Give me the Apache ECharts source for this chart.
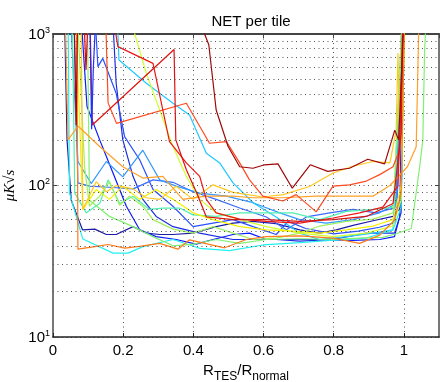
<!DOCTYPE html>
<html>
<head>
<meta charset="utf-8">
<script src="https://cdn.jsdelivr.net/npm/echarts@6/dist/echarts.min.js"></script>
<style>
  html, body { margin: 0; padding: 0; background: #fff; }
  #chart { width: 446px; height: 382px; }
</style>
</head>
<body>
<div id="chart"></div>
<script>
// NET curves, one per tile: [R_TES/R_normal, NET]
const tileDarkRed = [[0.418,1300],[0.432,1000],[0.444,850],[0.465,315],[0.499,181],[0.532,133],[0.57,130],[0.603,137],[0.641,139],[0.682,96],[0.733,137],[0.783,124],[0.845,130],[0.897,149],[0.945,139],[0.974,232],[0.985,200],[0.994,610],[0.999,1300]];
const tileRedA = [[0.105,1400],[0.112,251],[0.345,790],[0.35,200],[0.38,127],[0.41,89],[0.437,62],[0.513,59.5],[0.608,59.5],[0.703,58],[0.798,59.5],[0.893,62.5],[0.969,76],[0.992,220],[0.997,1400]];
const tileRedB = [[0.171,1300],[0.185,825],[0.285,640],[0.332,195],[0.38,141],[0.418,115],[0.437,81],[0.465,66],[0.532,60],[0.608,58],[0.703,56.5],[0.798,61],[0.874,66],[0.94,72],[0.983,99],[1.0,1300]];
const tileOrangeRed = [[0.15,1300],[0.157,351],[0.181,257],[0.38,349],[0.446,190],[0.494,195],[0.532,141],[0.56,109],[0.598,85],[0.655,79],[0.693,87],[0.75,67],[0.798,99],[0.845,101],[0.893,107],[0.931,118],[0.969,133],[0.988,172],[0.997,1300]];
const tileOrangeLow = [[0.068,1300],[0.071,38],[0.119,39.5],[0.157,40.8],[0.204,38.6],[0.247,39.6],[0.304,41.5],[0.356,38],[0.389,43.8],[0.489,38.8],[0.551,44],[0.608,46],[0.703,46.5],[0.798,45],[0.874,41.5],[0.931,47],[0.973,59],[0.992,89],[1.002,1300]];
const tileOrange = [[0.035,1300],[0.043,200],[0.071,247],[0.133,181],[0.199,133],[0.256,112],[0.313,115],[0.37,81],[0.437,85],[0.513,85],[0.57,83],[0.655,83],[0.75,85],[0.845,85],[0.912,85],[0.96,100],[1.01,133],[1.035,180],[1.043,1300]];
const tileAmber = [[0.08,1300],[0.085,69.5],[0.123,106],[0.152,91],[0.18,100],[0.228,95],[0.266,83],[0.304,81],[0.351,99],[0.399,81],[0.456,101],[0.513,90],[0.598,84],[0.656,87],[0.731,98.5],[0.798,121],[0.85,133],[0.911,144],[0.96,141],[0.978,230],[0.983,746],[0.988,200],[1.0,1300]];
const tileYellow = [[0.065,1300],[0.085,69.5],[0.123,94],[0.161,81],[0.199,99],[0.247,81],[0.294,94],[0.342,81],[0.399,66],[0.456,59.5],[0.532,53.5],[0.608,51],[0.684,50],[0.76,48.5],[0.836,51],[0.912,54],[0.969,59.5],[0.992,99],[1.002,1300]];
const tileLime = [[0.228,1300],[0.233,1000],[0.266,550],[0.304,315],[0.342,181],[0.38,115],[0.418,81],[0.465,66],[0.532,59.5],[0.608,53.5],[0.703,48.5],[0.798,46],[0.893,48.5],[0.969,54],[0.992,81],[1.002,1300]];
const tileLightGreen = [[0.07,1300],[0.09,133],[0.104,73],[0.133,85],[0.161,106],[0.19,74],[0.218,85],[0.256,73],[0.285,59.5],[0.342,51.5],[0.399,48.5],[0.456,53.5],[0.513,48.5],[0.57,44],[0.636,45],[0.703,48.5],[0.76,54],[0.836,58],[0.912,60],[0.969,66],[0.995,1300]];
const tileGreen = [[0.098,1300],[0.104,80],[0.161,62.5],[0.228,53.5],[0.285,46],[0.342,40],[0.399,41],[0.465,44],[0.532,41.5],[0.608,44],[0.703,44.5],[0.798,44],[0.874,45],[0.94,45.5],[0.978,48],[1.021,52],[1.045,133],[1.054,200],[1.059,785],[1.064,1300]];
const tileTeal = [[0.055,1300],[0.062,89],[0.095,66],[0.133,76],[0.157,109],[0.19,76],[0.228,85],[0.275,69.5],[0.313,71],[0.361,71],[0.399,64],[0.465,62.5],[0.532,66],[0.608,66],[0.684,66],[0.76,59.5],[0.836,67.5],[0.912,69.5],[0.973,72],[0.997,1300]];
const tileCyan = [[0.043,1300],[0.047,89],[0.085,44.3],[0.171,35.8],[0.214,35.8],[0.256,39.5],[0.342,44],[0.418,38.5],[0.503,37.2],[0.598,40.5],[0.703,42],[0.798,43.5],[0.893,45],[0.969,51],[0.992,72],[1.002,1300]];
const tileSky = [[0.183,1300],[0.188,674],[0.266,473],[0.342,349],[0.389,292],[0.437,163],[0.475,141],[0.513,104],[0.57,77],[0.636,62],[0.703,48.5],[0.76,44],[0.836,46],[0.912,48.5],[0.969,51],[0.995,1300]];
const tileLightBlue = [[0.05,1300],[0.071,144],[0.109,103],[0.152,144],[0.199,114],[0.256,171],[0.304,109],[0.351,99],[0.418,89],[0.494,85],[0.57,77],[0.646,66],[0.703,59.5],[0.779,56.5],[0.855,59.5],[0.931,66],[0.978,76],[1.0,1300]];
const tileBlueFlat = [[0.06,1300],[0.071,104],[0.104,99],[0.171,97],[0.228,95],[0.285,109],[0.342,105],[0.399,91],[0.465,81],[0.532,71],[0.608,62],[0.665,51],[0.722,62],[0.789,66],[0.855,69.5],[0.921,66],[0.98,72],[1.0,1300]];
const tileBlue = [[0.08,1300],[0.097,332],[0.133,200],[0.171,121],[0.209,73],[0.247,51],[0.294,46],[0.351,44],[0.408,41],[0.456,44],[0.513,47.5],[0.56,48.5],[0.608,44],[0.665,44],[0.75,44],[0.798,43.7],[0.855,43.4],[0.931,44],[0.973,46],[0.988,62],[0.998,1300]];
const tileBlueHump = [[0.12,1300],[0.128,609],[0.142,690],[0.18,406],[0.204,210],[0.247,148],[0.285,94],[0.342,73],[0.399,53.5],[0.456,56.5],[0.513,59.5],[0.57,53.5],[0.636,47.5],[0.67,58],[0.72,52],[0.8,48],[0.87,50],[0.93,53],[0.975,57],[0.995,1300]];
const tileBlueSteep = [[0.17,1300],[0.18,473],[0.199,200],[0.228,115],[0.256,81],[0.294,62.5],[0.342,53.5],[0.418,48.5],[0.513,44],[0.636,44],[0.703,43],[0.798,44],[0.893,48.5],[0.973,48.5],[0.992,66],[1.0,1300]];
const tileNavy = [[0.033,1300],[0.04,200],[0.052,80],[0.084,51],[0.119,51.5],[0.152,47.5],[0.18,47.5],[0.228,53.5],[0.266,48.5],[0.304,47.5],[0.342,47.5],[0.399,48.5],[0.465,53.5],[0.513,56.5],[0.57,58],[0.636,56],[0.703,51],[0.76,48.5],[0.807,51],[0.855,54.5],[0.912,58.5],[0.969,62.5],[0.992,72],[1.0,1300]];
const spikeDarkRed = [[0.06,1300],[0.066,250],[0.07,1300]];
const spikeRed = [[0.088,1300],[0.094,578],[0.1,1300]];
const spikeBlue = [[0.105,1300],[0.11,235],[0.115,600],[0.122,1300]];

const minorGridY = [20, 30, 40, 50, 60, 70, 80, 90, 200, 300, 400, 500, 600, 700, 800, 900];
const xTickValues = [0, 0.2, 0.4, 0.6, 0.8, 1];

const tiles = [
  { data: tileNavy, color: '#1c1ca8' },
  { data: tileBlue, color: '#0a1cff' },
  { data: tileBlueSteep, color: '#1a2ee0' },
  { data: tileBlueHump, color: '#2a50ff' },
  { data: tileBlueFlat, color: '#3a6cff' },
  { data: tileLightBlue, color: '#3498ff' },
  { data: tileSky, color: '#20c8ff' },
  { data: tileCyan, color: '#22f0f0' },
  { data: tileTeal, color: '#50f0b0' },
  { data: tileGreen, color: '#80f070' },
  { data: tileLightGreen, color: '#a0f060' },
  { data: tileLime, color: '#d0ff30' },
  { data: tileYellow, color: '#f4f000' },
  { data: tileAmber, color: '#ffc820' },
  { data: tileOrange, color: '#ffa028' },
  { data: tileOrangeLow, color: '#ff7a1a' },
  { data: tileOrangeRed, color: '#ff4a20' },
  { data: tileRedB, color: '#f01414' },
  { data: tileRedA, color: '#e01010' },
  { data: tileDarkRed, color: '#a00808' },
  { data: spikeDarkRed, color: '#b00000' },
  { data: spikeRed, color: '#e00010' },
  { data: spikeBlue, color: '#2030ff' }
];

const dots = [1, 3.5];
const font = 'Liberation Sans';

const series = tiles.map(function (t) {
  return {
    type: 'line',
    data: t.data,
    showSymbol: false,
    clip: true,
    silent: true,
    lineStyle: { color: t.color, width: 1.2 }
  };
});
series.unshift({
  type: 'line',
  data: [],
  silent: true,
  markLine: {
    symbol: 'none',
    silent: true,
    label: { show: false },
    lineStyle: { color: '#555', width: 1, type: dots },
    data: minorGridY.map(function (v) { return { yAxis: v }; })
  }
});

const chart = echarts.init(document.getElementById('chart'), null, { renderer: 'canvas' });
chart.setOption({
  animation: false,
  backgroundColor: '#fff',
  title: {
    text: 'NET per tile',
    left: 246,
    top: 9,
    textAlign: 'center',
    textStyle: { fontFamily: font, fontSize: 15, fontWeight: 'normal', color: '#000' }
  },
  grid: { left: 53, right: 7, top: 34, bottom: 45, containLabel: false, outerBoundsMode: 'none' },
  xAxis: [{
    type: 'value',
    min: 0,
    max: 1.1,
    interval: 0.2,
    axisLine: { show: true, onZero: false, lineStyle: { color: '#222', width: 1.5 } },
    axisTick: { inside: true, length: 4, lineStyle: { color: '#222' } },
    axisLabel: {
      showMaxLabel: false,
      margin: 6,
      fontFamily: font, fontSize: 15, color: '#000',
      formatter: function (v) { return xTickValues.indexOf(+v.toFixed(1)) >= 0 ? String(+v.toFixed(1)) : ''; }
    },
    splitLine: { show: true, lineStyle: { color: '#555', width: 1, type: dots } },
    name: '{r|R}{s|TES}{r|/R}{s|normal}',
    nameLocation: 'middle',
    nameGap: 14,
    nameTextStyle: {
      rich: {
        r: { fontFamily: font, fontSize: 15, color: '#000', lineHeight: 15, verticalAlign: 'top' },
        s: { fontFamily: font, fontSize: 12, color: '#000', lineHeight: 20, verticalAlign: 'bottom' }
      }
    }
  }, {
    type: 'value',
    position: 'top',
    min: 0,
    max: 1.1,
    interval: 0.2,
    axisLine: { show: true, onZero: false, lineStyle: { color: '#444', width: 2 } },
    axisTick: { inside: true, length: 4, lineStyle: { color: '#444' } },
    axisLabel: { show: false },
    splitLine: { show: false }
  }],
  yAxis: [{
    type: 'log',
    logBase: 10,
    min: 10,
    max: 1000,
    axisLine: { show: true, onZero: false, lineStyle: { color: '#777', width: 2 } },
    axisTick: { inside: true, length: 4, lineStyle: { color: '#444' } },
    axisLabel: {
      margin: 3,
      formatter: function (v) { return '{n|10}{p|' + Math.round(Math.log10(v)) + '}'; },
      rich: {
        n: { fontFamily: font, fontSize: 15, color: '#000', lineHeight: 16, verticalAlign: 'bottom' },
        p: { fontFamily: font, fontSize: 9, color: '#000', lineHeight: 9, verticalAlign: 'top' }
      }
    },
    splitLine: { show: true, lineStyle: { color: '#555', width: 1, type: dots } },
    name: 'μK√s',
    nameLocation: 'middle',
    nameRotate: 90,
    nameGap: 30,
    nameTextStyle: { fontFamily: 'Liberation Serif', fontStyle: 'italic', fontSize: 15, color: '#000' }
  }, {
    type: 'log',
    logBase: 10,
    min: 10,
    max: 1000,
    position: 'right',
    axisLine: { show: true, onZero: false, lineStyle: { color: '#777', width: 2 } },
    axisTick: { inside: true, length: 4, lineStyle: { color: '#444' } },
    axisLabel: { show: false },
    splitLine: { show: false }
  }],
  series: series
});
</script>
</body>
</html>
